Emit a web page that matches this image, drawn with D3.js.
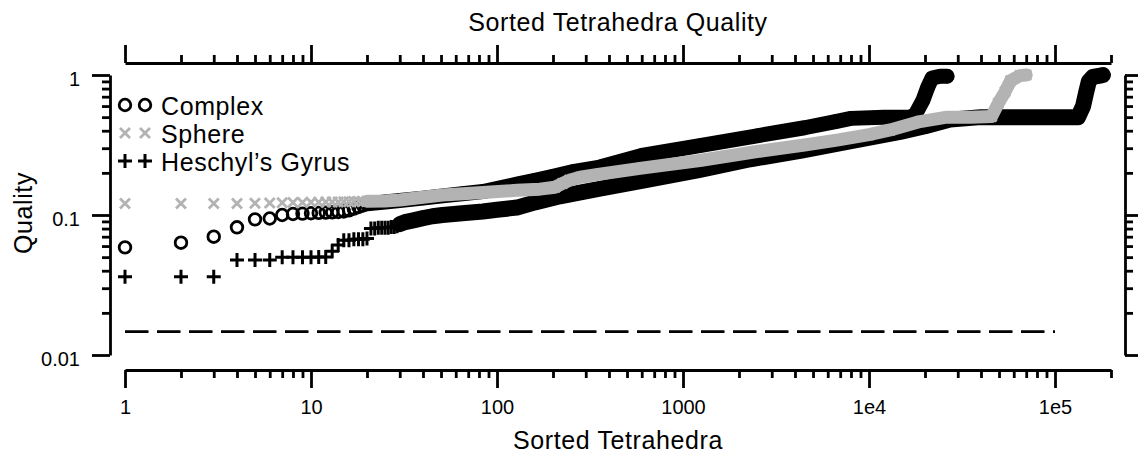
<!DOCTYPE html>
<html>
<head>
<meta charset="utf-8">
<script src="https://cdn.jsdelivr.net/npm/d3@7"></script>
<style>
  body { margin: 0; background: #fff; }
  svg { display: block; font-family: "Liberation Sans", Arial, sans-serif; }
</style>
</head>
<body>
<svg id="plotSvg"></svg>
<script>
// sorted tetrahedron index -> quality
var complexN = [1, 2, 3, 4, 5, 6, 7, 8, 9, 10, 11, 12, 13, 14, 15, 16, 17, 18, 19, 20,
  25, 30, 40, 51, 65, 84, 128, 160, 200, 260, 357, 600, 1230, 2500, 4500, 6700, 8000,
  12000, 16600, 17700, 19500, 20700, 21800, 24100, 26300];
var complexQ = [0.0587, 0.0634, 0.070, 0.0817, 0.0931, 0.0944, 0.100, 0.1017, 0.1023, 0.103,
  0.1035, 0.104, 0.1045, 0.105, 0.106, 0.108, 0.111, 0.114, 0.117, 0.12,
  0.124, 0.127, 0.132, 0.137, 0.142, 0.147, 0.166, 0.177, 0.189, 0.205, 0.22, 0.266, 0.313,
  0.368, 0.42, 0.467, 0.49, 0.50, 0.50, 0.52, 0.66, 0.82, 0.95, 0.98, 0.98];

var sphereN = [1, 2, 3, 4, 5, 6, 7, 8, 9, 10, 11, 12, 13, 14, 15, 16, 17, 18, 19, 20,
  25, 30, 40, 51, 84, 128, 170, 205, 225, 245, 280, 357, 600, 1230, 2500, 4500, 6730,
  10000, 13000, 18800, 26300, 35000, 45600, 49600, 53900, 57700, 64700, 70000];
var sphereQ = [0.121, 0.121, 0.121, 0.121, 0.1215, 0.122, 0.1225, 0.123, 0.123, 0.1235,
  0.1235, 0.124, 0.124, 0.124, 0.1245, 0.1245, 0.125, 0.125, 0.125, 0.1255,
  0.126, 0.128, 0.134, 0.139, 0.145, 0.150, 0.153, 0.158, 0.168, 0.177, 0.186, 0.196, 0.216,
  0.245, 0.284, 0.316, 0.343, 0.375, 0.405, 0.465, 0.50, 0.50, 0.505, 0.63, 0.76, 0.91,
  0.99, 1.0];

var heschylN = [1, 2, 3, 4, 5, 6, 7, 8, 9, 10, 11, 12, 13, 14, 15, 16, 17, 18, 19, 20,
  21, 22, 23, 24, 25, 26, 27, 28, 29, 30, 32, 36, 40, 45, 51, 65, 84, 100, 128, 160, 218,
  357, 600, 1234, 2300, 4260, 8000, 14680, 20000, 27250, 40000, 70000, 100000, 133000,
  141600, 147000, 152000, 160000, 175000, 181000];
var heschylQ = [0.0362, 0.0362, 0.0362, 0.0477, 0.0477, 0.0477, 0.0499, 0.0499, 0.050, 0.050,
  0.0501, 0.0502, 0.055, 0.061, 0.066, 0.066, 0.067, 0.067, 0.067, 0.068,
  0.080, 0.080, 0.081, 0.081, 0.081, 0.081, 0.082, 0.082, 0.083, 0.086, 0.089, 0.092, 0.095,
  0.098, 0.100, 0.103, 0.106, 0.109, 0.113, 0.123, 0.136, 0.154, 0.175, 0.21, 0.25, 0.287,
  0.337, 0.392, 0.43, 0.48, 0.50, 0.50, 0.50, 0.50, 0.60, 0.75, 0.90, 0.97, 0.99, 1.0];

var seriesNames = ["Complex", "Sphere", "Heschyl\u2019s Gyrus"];
var xTickLabels = ["1", "10", "100", "1000", "1e4", "1e5"];
var yTickLabels = ["0.01", "0.1", "1"];
var thresholdQ = 0.0147;
var thresholdN = [1, 1e5];

var width = 1138, height = 460;
var svg = d3.select("#plotSvg").attr("width", width).attr("height", height);

var x = d3.scaleLog().domain([1, 2e5]).range([125, 1111]);
var y = d3.scaleLog().domain([0.01, 1]).range([355, 75]);

var gray = "#b3b3b3";
var lw = 2.8;

function isMajor(v) {
  var l = Math.log10(v);
  return Math.abs(l - Math.round(l)) < 1e-6;
}
var xMajor = x.ticks().filter(isMajor), xMinor = x.ticks().filter(function(v) { return !isMajor(v); });
var yMajor = y.ticks().filter(isMajor), yMinor = y.ticks().filter(function(v) { return !isMajor(v); });

function drawAxis(axisFn, scale, majors, minors, transform, fmt) {
  var gMin = svg.append("g").attr("transform", transform)
    .call(axisFn(scale).tickValues(minors).tickSize(8).tickSizeOuter(0).tickFormat(""));
  gMin.select(".domain").remove();
  var gMaj = svg.append("g").attr("transform", transform)
    .call(axisFn(scale).tickValues(majors).tickSize(18).tickSizeOuter(0).tickPadding(12).tickFormat(fmt || ""));
  [gMin, gMaj].forEach(function(g) {
    g.selectAll("line, path").attr("stroke", "#000").attr("stroke-width", lw);
    g.attr("font-size", 20).attr("font-family", "'Liberation Sans', Arial, sans-serif");
    g.selectAll("text").attr("fill", "#000");
  });
  return gMaj;
}

var bottom = drawAxis(d3.axisBottom, x, xMajor, xMinor, "translate(0,370)", function(d) {
  return xTickLabels[Math.round(Math.log10(d))];
});
bottom.selectAll("text").attr("y", 44).attr("dy", "0");
drawAxis(d3.axisTop, x, xMajor, xMinor, "translate(0,63)");

var left = drawAxis(d3.axisLeft, y, yMajor, yMinor, "translate(110,0)", function(d) {
  return yTickLabels[Math.round(Math.log10(d)) + 2];
});
left.selectAll("text").attr("x", -30).attr("dy", "0.53em");
drawAxis(d3.axisRight, y, yMajor, yMinor, "translate(1125,0)");

// axis titles
var titleFont = { size: 25, spacing: 0.6 };
function title(txt, tx, ty, rot) {
  svg.append("text")
    .attr("transform", "translate(" + tx + "," + ty + ")" + (rot ? " rotate(-90)" : ""))
    .attr("text-anchor", "middle")
    .attr("font-size", titleFont.size)
    .attr("letter-spacing", titleFont.spacing)
    .text(txt);
}
title("Sorted Tetrahedra Quality", 618, 31);
title("Sorted Tetrahedra", 618, 449);
title("Quality", 32, 213, true);

// threshold line
svg.append("path")
  .attr("d", d3.line()([[x(thresholdN[0]), y(thresholdQ)], [x(thresholdN[1]), y(thresholdQ)]]))
  .attr("stroke", "#000")
  .attr("stroke-width", lw)
  .attr("stroke-dasharray", "23.5,8.5")
  .attr("fill", "none");

// markers
function marker(g, kind, color) {
  if (kind === "circle") {
    g.append("circle").attr("r", 5.8).attr("fill", "none").attr("stroke", color).attr("stroke-width", 2.8);
  } else if (kind === "plus") {
    g.append("path").attr("d", "M-7,0H7M0,-7V7").attr("stroke", color).attr("stroke-width", 3);
  } else {
    g.append("path").attr("d", "M-5,-5L5,5M-5,5L5,-5").attr("stroke", color).attr("stroke-width", 2.8);
  }
}

var series = [
  { name: seriesNames[0], n: complexN, q: complexQ, kind: "circle", color: "#000", band: 15, from: 20 },
  { name: seriesNames[2], n: heschylN, q: heschylQ, kind: "plus", color: "#000", band: 16, from: 30 },
  { name: seriesNames[1], n: sphereN, q: sphereQ, kind: "times", color: gray, band: 13, from: 20 }
];

var line = d3.line()
  .x(function(d) { return x(d[0]); })
  .y(function(d) { return y(d[1]); });

series.forEach(function(s) {
  var pts = s.n.map(function(n, i) { return [n, s.q[i]]; });
  var dense = pts.filter(function(d) { return d[0] >= s.from; });
  svg.append("path")
    .attr("d", line(dense))
    .attr("fill", "none")
    .attr("stroke", s.color)
    .attr("stroke-width", s.band)
    .attr("stroke-linejoin", "round")
    .attr("stroke-linecap", "round");
  svg.append("g").selectAll("g")
    .data(pts)
    .enter().append("g")
    .attr("transform", function(d) { return "translate(" + x(d[0]) + "," + y(d[1]) + ")"; })
    .each(function() { marker(d3.select(this), s.kind, s.color); });
});

// legend
var legendKinds = [["circle", "#000"], ["times", gray], ["plus", "#000"]];
var legend = svg.append("g")
  .selectAll("g")
  .data(seriesNames)
  .enter().append("g")
  .attr("transform", function(d, i) { return "translate(0," + (105 + i * 28) + ")"; });

legend.each(function(d, i) {
  var g = d3.select(this);
  [125, 145].forEach(function(mx) {
    marker(g.append("g").attr("transform", "translate(" + mx + ",0)"), legendKinds[i][0], legendKinds[i][1]);
  });
  g.append("text")
    .attr("x", 161)
    .attr("y", 9.5)
    .attr("font-size", titleFont.size)
    .attr("letter-spacing", titleFont.spacing)
    .text(d);
});
</script>
</body>
</html>
